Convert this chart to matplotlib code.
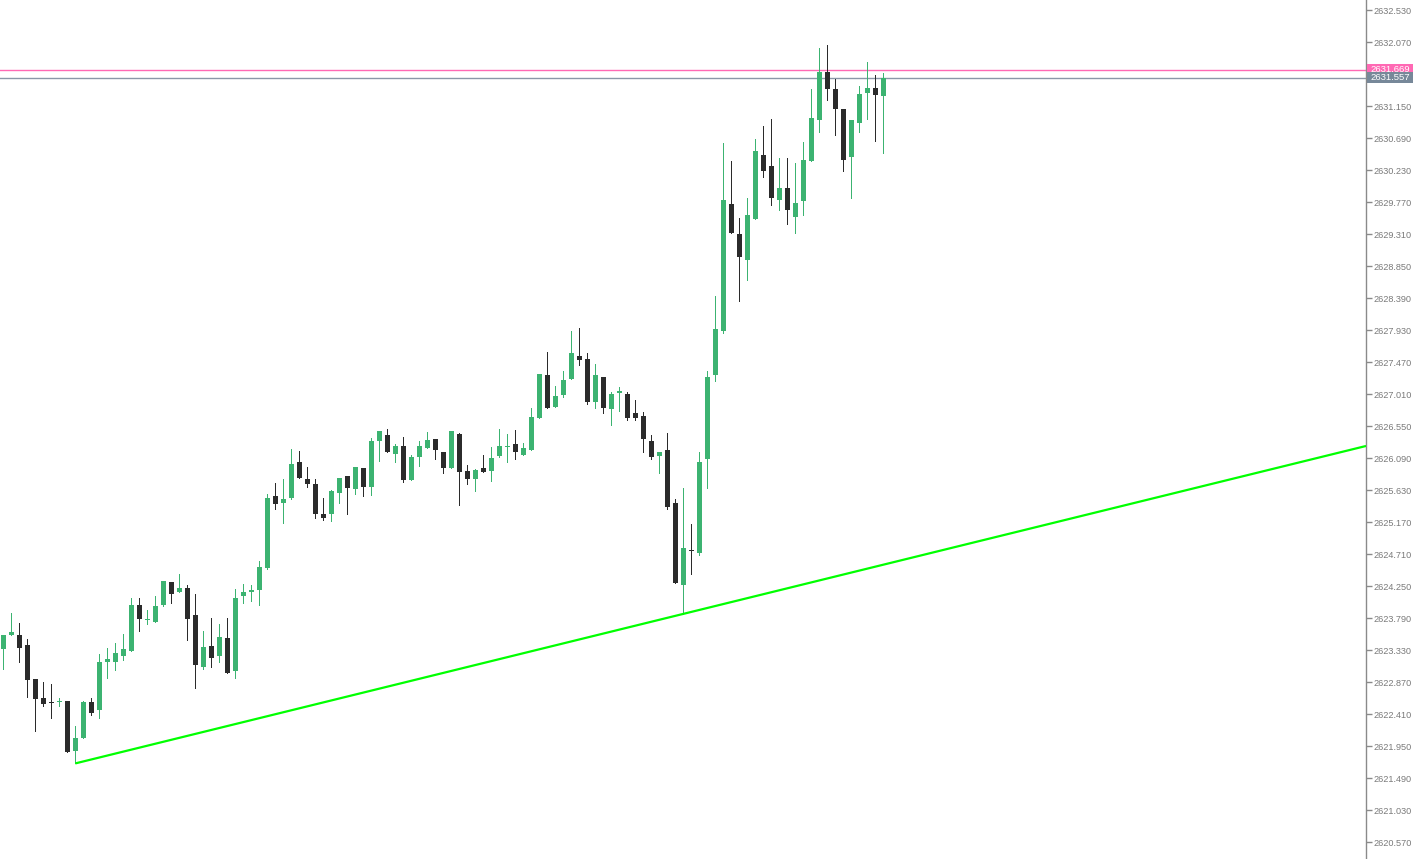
import numpy as np
import matplotlib
matplotlib.use('Agg')
from matplotlib import pyplot as plt
import matplotlib.transforms as mtransforms
from matplotlib.patches import Rectangle

# OHLC prices, one entry per bar (oldest first)
opens = [2623.35, 2623.54, 2623.55, 2623.40, 2622.91, 2622.64, 2622.58, 2622.58, 2622.60, 2621.88,
         2622.07, 2622.58, 2622.47, 2623.16, 2623.16, 2623.25, 2623.31, 2623.98, 2623.76, 2623.74,
         2623.98, 2624.31, 2624.17, 2624.22, 2623.83, 2623.08, 2623.39, 2623.25, 2623.50, 2623.03,
         2624.10, 2624.17, 2624.20, 2624.51, 2625.54, 2625.45, 2625.52, 2626.03, 2625.79, 2625.72,
         2625.29, 2625.28, 2625.59, 2625.83, 2625.65, 2625.95, 2625.68, 2626.33, 2626.42, 2626.15,
         2626.26, 2625.78, 2626.10, 2626.24, 2626.36, 2626.18, 2625.95, 2626.44, 2625.90, 2625.79,
         2625.95, 2625.91, 2626.12, 2626.25, 2626.29, 2626.14, 2626.21, 2626.67, 2627.28, 2626.83,
         2626.99, 2627.22, 2627.56, 2627.51, 2626.90, 2627.26, 2626.80, 2627.03, 2627.01, 2626.74,
         2626.70, 2626.34, 2626.12, 2626.21, 2625.44, 2624.26, 2624.76, 2624.72, 2626.07, 2627.29,
         2627.92, 2629.74, 2629.31, 2628.94, 2629.53, 2630.45, 2630.29, 2629.80, 2629.97, 2629.56,
         2629.79, 2630.36, 2630.95, 2631.64, 2631.40, 2631.11, 2630.42, 2630.91, 2631.33, 2631.41,
         2631.30]
highs = [2623.55, 2623.86, 2623.72, 2623.49, 2622.91, 2622.87, 2622.84, 2622.64, 2622.60, 2622.24,
         2622.60, 2622.64, 2623.27, 2623.36, 2623.43, 2623.56, 2624.08, 2624.08, 2623.91, 2624.11,
         2624.32, 2624.31, 2624.42, 2624.27, 2624.14, 2623.61, 2623.79, 2623.71, 2623.79, 2624.21,
         2624.28, 2624.27, 2624.61, 2625.57, 2625.73, 2625.79, 2626.22, 2626.19, 2625.96, 2625.79,
         2625.52, 2625.63, 2625.80, 2625.83, 2625.96, 2625.95, 2626.38, 2626.48, 2626.51, 2626.29,
         2626.39, 2626.13, 2626.34, 2626.46, 2626.36, 2626.18, 2626.48, 2626.45, 2625.99, 2625.93,
         2626.13, 2626.25, 2626.51, 2626.44, 2626.49, 2626.31, 2626.81, 2627.30, 2627.61, 2627.13,
         2627.34, 2627.92, 2627.96, 2627.60, 2627.44, 2627.26, 2627.04, 2627.11, 2627.04, 2626.92,
         2626.75, 2626.42, 2626.17, 2626.45, 2625.50, 2625.66, 2625.14, 2626.18, 2627.34, 2628.42,
         2630.62, 2630.36, 2629.54, 2629.83, 2630.68, 2630.86, 2630.96, 2630.40, 2630.40, 2630.33,
         2630.63, 2631.40, 2631.98, 2632.03, 2631.54, 2631.11, 2630.95, 2631.44, 2631.78, 2631.59,
         2631.62]
lows = [2623.06, 2623.54, 2623.16, 2622.65, 2622.17, 2622.53, 2622.36, 2622.52, 2621.86, 2621.70,
        2622.07, 2622.39, 2622.36, 2622.93, 2623.05, 2623.18, 2623.31, 2623.61, 2623.71, 2623.74,
        2623.97, 2624.00, 2624.17, 2623.48, 2622.78, 2623.06, 2623.09, 2623.16, 2623.00, 2622.93,
        2624.01, 2624.03, 2623.98, 2624.50, 2625.36, 2625.15, 2625.50, 2625.81, 2625.68, 2625.23,
        2625.20, 2625.19, 2625.45, 2625.28, 2625.58, 2625.55, 2625.56, 2626.05, 2626.17, 2626.04,
        2625.74, 2625.78, 2625.98, 2626.24, 2626.07, 2625.88, 2625.95, 2625.42, 2625.71, 2625.61,
        2625.89, 2625.76, 2626.11, 2626.04, 2626.08, 2626.14, 2626.21, 2626.67, 2626.81, 2626.83,
        2626.97, 2627.22, 2627.43, 2626.87, 2626.81, 2626.74, 2626.56, 2626.77, 2626.64, 2626.63,
        2626.17, 2626.08, 2625.87, 2625.36, 2624.30, 2623.85, 2624.43, 2624.69, 2625.66, 2627.19,
        2627.89, 2629.33, 2628.34, 2628.65, 2629.53, 2630.13, 2629.73, 2629.65, 2629.46, 2629.33,
        2629.59, 2630.36, 2630.78, 2631.24, 2630.74, 2630.22, 2629.83, 2630.77, 2630.97, 2630.64,
        2630.47]
closes = [2623.55, 2623.59, 2623.36, 2622.90, 2622.63, 2622.56, 2622.57, 2622.60, 2621.86, 2622.07,
          2622.59, 2622.42, 2623.16, 2623.20, 2623.29, 2623.35, 2623.98, 2623.77, 2623.78, 2623.96,
          2624.32, 2624.13, 2624.22, 2623.78, 2623.12, 2623.37, 2623.22, 2623.52, 2623.00, 2624.08,
          2624.16, 2624.19, 2624.52, 2625.52, 2625.43, 2625.50, 2626.01, 2625.81, 2625.71, 2625.28,
          2625.23, 2625.62, 2625.80, 2625.66, 2625.96, 2625.68, 2626.34, 2626.48, 2626.17, 2626.26,
          2625.78, 2626.11, 2626.26, 2626.35, 2626.20, 2625.94, 2626.48, 2625.89, 2625.79, 2625.92,
          2625.89, 2626.09, 2626.26, 2626.27, 2626.17, 2626.23, 2626.68, 2627.30, 2626.81, 2626.98,
          2627.21, 2627.60, 2627.50, 2626.89, 2627.28, 2626.81, 2627.01, 2627.04, 2626.66, 2626.67,
          2626.37, 2626.11, 2626.17, 2625.39, 2624.30, 2624.80, 2624.75, 2626.03, 2627.26, 2627.95,
          2629.80, 2629.33, 2628.98, 2629.58, 2630.50, 2630.22, 2629.83, 2629.97, 2629.65, 2629.76,
          2630.37, 2630.98, 2631.64, 2631.40, 2631.11, 2630.38, 2630.95, 2631.32, 2631.41, 2631.31,
          2631.557]

# price scale labels on the right
tick_labels = ['2632.530', '2632.070', '2631.610', '2631.150', '2630.690', '2630.230', '2629.770',
               '2629.310', '2628.850', '2628.390', '2627.930', '2627.470', '2627.010', '2626.550',
               '2626.090', '2625.630', '2625.170', '2624.710', '2624.250', '2623.790', '2623.330',
               '2622.870', '2622.410', '2621.950', '2621.490', '2621.030', '2620.570']

ask_level = 2631.669
bid_level = 2631.557
# trend line drawn through the lows of these two bars
trend_from = 9
trend_through = 85

green = '#3cb371'
dark = '#2b2b2b'
axis_grey = '#8a8a8a'
W, H = 1418, 859
axis_px = 1366

fig = plt.figure(figsize=(W / 100, H / 100), dpi=100)
ax = fig.add_axes([0, 0, axis_px / W, 1])

o = np.array(opens)
h = np.array(highs)
l = np.array(lows)
c = np.array(closes)
x = np.arange(len(o))
up = c >= o
cols = np.where(up, green, dark)

# wicks (1 px)
ax.vlines(x, l, h, colors=cols, linewidth=0.72, zorder=2, antialiased=False)
# bodies
bottom = np.minimum(o, c)
height = np.maximum(np.abs(c - o), 0.018)
ax.bar(x, height, bottom=bottom, width=0.62, color=cols, linewidth=0, zorder=3)

# horizontal price lines
ax.axhline(ask_level, color='#ff69b4', linewidth=1.0, zorder=1)
ax.axhline(bid_level, color='#8a97a8', linewidth=1.0, zorder=1)

# trend line
xlim_right = 170.3
slope = (lows[trend_through] - lows[trend_from]) / (trend_through - trend_from)
tx = np.array([trend_from, xlim_right])
ty = lows[trend_from] + slope * (tx - trend_from)
ax.plot(tx, ty, color='#00ff00', linewidth=1.6, zorder=4, solid_capstyle='butt')

ax.set_xlim(-0.41, xlim_right)
ax.set_ylim(2620.326, 2632.674)

# right price axis
tick_vals = [float(t) for t in tick_labels]
ax.yaxis.tick_right()
ax.set_yticks(tick_vals)
ax.set_yticklabels(tick_labels)
ax.tick_params(axis='y', direction='out', length=4, width=1, color=axis_grey,
               labelcolor='#7a7a7a', labelsize=6.6, pad=1.5)
for lab in ax.get_yticklabels():
    lab.set_family('Liberation Sans')
ax.set_xticks([])
for side in ['top', 'left', 'bottom']:
    ax.spines[side].set_visible(False)
ax.spines['right'].set_color(axis_grey)
ax.spines['right'].set_linewidth(1.0)

# level tags on the price axis (bid tag drawn over the ask tag)
trans = mtransforms.blended_transform_factory(fig.transFigure, ax.transData)
tag_h = 11 / 69.57
for level, label, fc, z in [(ask_level, '2631.669', '#ff69b4', 10), (bid_level, '2631.557', '#778899', 12)]:
    fig.add_artist(Rectangle(((axis_px + 1) / W, level - tag_h / 2), 46 / W, tag_h,
                             transform=trans, facecolor=fc, edgecolor='none', zorder=z, clip_on=False))
    fig.text((axis_px + 4) / W, level, label, transform=trans, ha='left', va='center',
             fontsize=6.8, family='Liberation Sans', color='white', zorder=z + 1)

fig.savefig('out.png', dpi=100, facecolor='white')
